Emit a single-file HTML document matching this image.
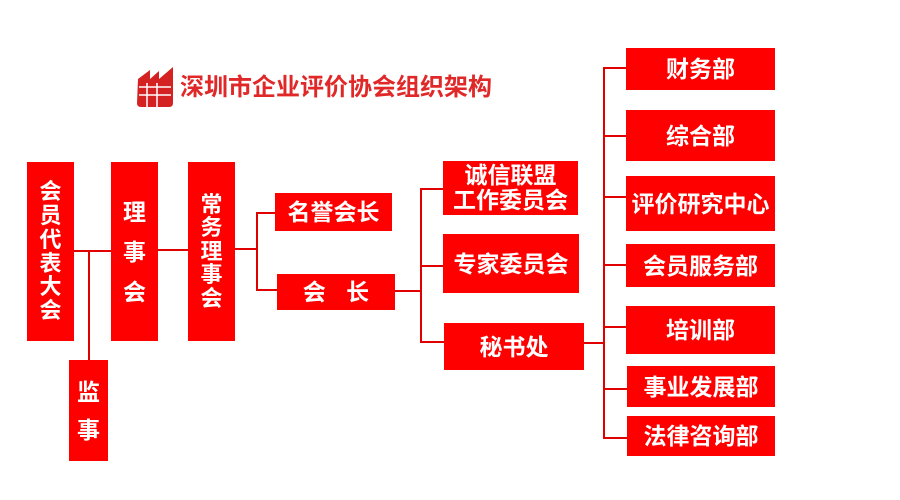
<!DOCTYPE html>
<html><head><meta charset="utf-8"><style>
body{margin:0;width:900px;height:500px;background:#fff;position:relative;overflow:hidden;font-family:"Liberation Sans","Noto Sans CJK SC",sans-serif}
.b{position:absolute;background:#fe0000;color:#fff;display:flex;align-items:center;justify-content:center;text-align:center;font-size:23px;line-height:26px;font-weight:bold;white-space:nowrap}
.v{flex-direction:column}
.l{position:absolute;background:#e00000}
.h{height:1.5px}.w{width:1.5px}
</style></head><body>
<svg style="position:absolute;left:135px;top:67px" width="40" height="41" viewBox="0 0 40 41">
<path d="M3 12 L15 3 L15 12 L24 4 L24 12 L38 0 L38 36 Q38 40 34 40 L6 40 Q2 40 2 36 Z" fill="#d42222"/>
<path d="M4 20 H36 M4 28 H36 M12 16 V40 M22 16 V40" stroke="#fff" stroke-width="1.5"/>
</svg>
<div style="position:absolute;left:180px;top:73px;font-size:24px;line-height:30px;color:#e02828;font-weight:bold">深圳市企业评价协会组织架构</div>

<div class="b v" style="left:27px;top:162px;width:47px;height:179px;line-height:23.7px;font-size:22px">会<br>员<br>代<br>表<br>大<br>会</div>
<div class="b v" style="left:111px;top:162px;width:47px;height:179px;line-height:40px">理<br>事<br>会</div>
<div class="b v" style="left:188px;top:162px;width:47px;height:179px;line-height:23.6px;font-size:22px">常<br>务<br>理<br>事<br>会</div>
<div class="b v" style="left:69px;top:360px;width:39px;height:101px;line-height:38px">监<br>事</div>
<div class="b" style="left:275px;top:193px;width:117px;height:38px">名誉会长</div>
<div class="b" style="left:277px;top:274px;width:118px;height:36px;word-spacing:14px">会 长</div>
<div class="b" style="left:443px;top:161px;width:135px;height:54px;line-height:25px">诚信联盟<br>工作委员会</div>
<div class="b" style="left:443px;top:234px;width:136px;height:59px">专家委员会</div>
<div class="b" style="left:444px;top:323px;width:140px;height:47px">秘书处</div>
<div class="b" style="left:626px;top:48px;width:149px;height:42px">财务部</div>
<div class="b" style="left:626px;top:110px;width:149px;height:51px">综合部</div>
<div class="b" style="left:626px;top:176px;width:149px;height:55px">评价研究中心</div>
<div class="b" style="left:626px;top:244px;width:149px;height:43px">会员服务部</div>
<div class="b" style="left:626px;top:306px;width:149px;height:48px">培训部</div>
<div class="b" style="left:627px;top:366px;width:148px;height:41px">事业发展部</div>
<div class="b" style="left:627px;top:416px;width:148px;height:40px">法律咨询部</div>

<div class="l h" style="left:74px;top:250px;width:37px"></div>
<div class="l w" style="left:88px;top:251px;height:109px"></div>
<div class="l h" style="left:158px;top:249px;width:30px"></div>
<div class="l h" style="left:235px;top:248px;width:21px"></div>
<div class="l w" style="left:256px;top:212px;height:78px"></div>
<div class="l h" style="left:256px;top:212px;width:19px"></div>
<div class="l h" style="left:256px;top:289px;width:21px"></div>
<div class="l h" style="left:395px;top:290px;width:25px"></div>
<div class="l w" style="left:420px;top:188px;height:154px"></div>
<div class="l h" style="left:420px;top:188px;width:23px"></div>
<div class="l h" style="left:420px;top:265px;width:23px"></div>
<div class="l h" style="left:420px;top:341px;width:24px"></div>
<div class="l h" style="left:584px;top:342px;width:19px"></div>
<div class="l w" style="left:603px;top:67px;height:371px"></div>
<div class="l h" style="left:603px;top:67px;width:23px"></div>
<div class="l h" style="left:603px;top:135px;width:23px"></div>
<div class="l h" style="left:603px;top:196px;width:23px"></div>
<div class="l h" style="left:603px;top:264px;width:23px"></div>
<div class="l h" style="left:603px;top:326px;width:23px"></div>
<div class="l h" style="left:603px;top:388px;width:24px"></div>
<div class="l h" style="left:603px;top:437px;width:24px"></div>
</body></html>
